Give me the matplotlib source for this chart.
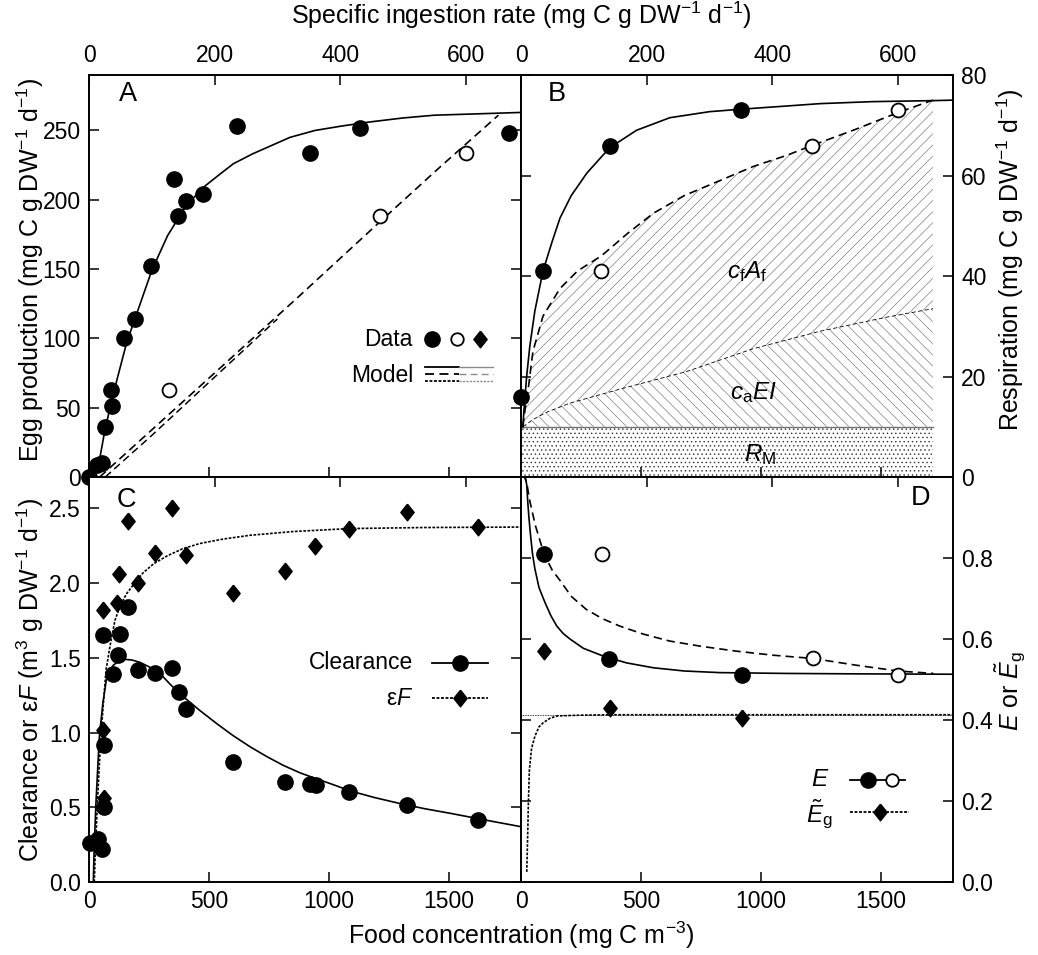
import numpy as np
import matplotlib
matplotlib.use("Agg")
import matplotlib.pyplot as plt

plt.rcParams['font.family'] = ['Liberation Sans', 'DejaVu Sans']
plt.rcParams['mathtext.fontset'] = 'custom'
plt.rcParams['mathtext.rm'] = 'Liberation Sans'
plt.rcParams['mathtext.it'] = 'Liberation Sans:italic'
plt.rcParams['hatch.linewidth'] = 0.5

# ---------------------------------------------------------------------------
# Data
# ---------------------------------------------------------------------------
ING_MAX = 688      # specific ingestion rate axis limit
FOOD_MAX = 1800    # food concentration axis limit

# Panel A: egg production vs specific ingestion rate
a_fill_x = [0, 12, 20, 25, 37, 35, 56, 73, 99, 135, 141, 154, 182, 236, 352, 432, 669]
a_fill_y = [0, 9, 10, 36, 51, 63, 100, 114, 152, 215, 188, 199, 204, 253, 234, 252, 248]
a_open_x = [128, 463, 600]
a_open_y = [63, 188, 234]
a_solid_x = [0, 10, 17, 25, 35, 45, 60, 80, 100, 125, 155, 185, 210, 230, 260, 285, 320,
             360, 400, 445, 500, 550, 620, 688]
a_solid_y = [0, 5, 13, 33, 53, 71, 97, 123, 149, 174, 196, 210, 219, 226, 233, 238, 245,
             250, 253, 256, 259, 261, 262, 263]
a_dash_x = [17, 100, 200, 336, 463, 560, 652]
a_dash_y = [0, 34, 75, 131, 184, 224, 261]
a_dash2_x = [26, 100, 200, 300]
a_dash2_y = [0, 30, 72, 114]

# Panel B: respiration vs specific ingestion rate
b_fill_x = [0, 35, 141, 351]
b_fill_y = [16.0, 40.9, 65.9, 73.0]
b_open_x = [128, 464, 600]
b_open_y = [40.9, 65.9, 73.0]
b_solid_x = [3, 4, 6, 9, 14, 22, 35, 50, 62, 80, 105, 141, 184, 237, 300, 351, 420, 476,
             560, 656, 688]
b_solid_y = [10, 12, 15.5, 20, 26, 33, 41, 47, 51.5, 56, 60.5, 65.5, 69, 71.5, 72.7, 73.2,
             73.8, 74.3, 74.7, 74.9, 75.0]
b_total_x = [3, 6, 11, 19, 35, 62, 90, 128, 170, 211, 260, 317, 370, 423, 464, 529, 600, 656]
b_total_y = [10, 13, 17, 25, 32, 37.5, 41, 44, 48.5, 52.5, 56, 59, 61.8, 64, 66, 69, 72.5, 75]
b_act_x = [3, 20, 41, 78, 158, 264, 369, 476, 582, 656]
b_act_y = [10, 11.5, 12.9, 14.7, 17.5, 21, 25.5, 29, 31.8, 33.5]
b_rm = 10.0
b_end = 656

# Panel C: clearance and eps*F vs food concentration
c_clear_x = [4, 39, 53, 64, 64, 57, 99, 122, 129, 164, 205, 275, 347, 375, 403,
             601, 817, 921, 946, 1085, 1326, 1622]
c_clear_y = [0.26, 0.29, 0.22, 0.50, 0.92, 1.655, 1.395, 1.52, 1.66, 1.84, 1.42, 1.40,
             1.43, 1.27, 1.16, 0.80, 0.67, 0.655, 0.65, 0.60, 0.515, 0.415]
c_epsf_x = [39, 57, 60, 64, 118, 127, 161, 205, 275, 347, 403, 601, 817, 942, 1085, 1326, 1622]
c_epsf_y = [0.28, 1.82, 1.02, 0.56, 1.87, 2.06, 2.415, 2.00, 2.20, 2.50, 2.185, 1.935,
            2.08, 2.25, 2.365, 2.475, 2.375]
c_solid_x = [18, 22, 29, 43, 58, 74, 101, 125, 150, 180, 212, 250, 296, 340, 393, 460, 532,
             600, 671, 740, 810, 880, 949, 1020, 1087, 1190, 1296, 1400, 1504, 1650, 1800]
c_solid_y = [0, 0.25, 0.53, 0.97, 1.2, 1.37, 1.45, 1.48, 1.49, 1.485, 1.47, 1.44, 1.395,
             1.32, 1.24, 1.15, 1.06, 0.98, 0.905, 0.84, 0.78, 0.73, 0.69, 0.65, 0.61, 0.565,
             0.525, 0.49, 0.46, 0.415, 0.37]
c_dot_x = [22, 28, 35, 49, 71, 90, 108, 130, 157, 190, 226, 270, 323, 390, 462, 560, 671,
           850, 1087, 1400, 1800]
c_dot_y = [0, 0.27, 0.53, 0.97, 1.42, 1.6, 1.75, 1.85, 1.93, 2.0, 2.07, 2.13, 2.18, 2.23,
           2.265, 2.295, 2.32, 2.345, 2.365, 2.372, 2.375]

# Panel D: gross growth efficiencies vs food concentration
d_fill_x = [96, 368, 920]
d_fill_y = [0.81, 0.55, 0.511]
d_open_x = [339, 1215, 1570]
d_open_y = [0.81, 0.552, 0.511]
d_dia_x = [96, 372, 920]
d_dia_y = [0.57, 0.43, 0.405]
d_solid_x = [0, 18, 24, 28, 33, 40, 48, 58, 75, 100, 125, 149, 175, 204, 260, 342, 440, 551,
             680, 829, 1100, 1378, 1800]
d_solid_y = [1.0, 1.0, 0.98, 0.94, 0.9, 0.855, 0.81, 0.773, 0.727, 0.69, 0.657, 0.632, 0.614,
             0.60, 0.577, 0.558, 0.541, 0.529, 0.521, 0.517, 0.515, 0.514, 0.513]
d_dash_x = [0, 15, 24, 37, 60, 96, 130, 162, 210, 272, 340, 411, 510, 619, 750, 897, 1050,
            1215, 1400, 1570, 1718]
d_dash_y = [1.0, 1.0, 0.985, 0.94, 0.88, 0.81, 0.77, 0.745, 0.705, 0.673, 0.65, 0.632, 0.612,
            0.595, 0.582, 0.57, 0.56, 0.552, 0.535, 0.521, 0.515]
d_dot_x = [24, 28, 31, 35, 44, 58, 75, 92, 120, 150, 250, 400, 920, 1800]
d_dot_y = [0.025, 0.12, 0.2, 0.277, 0.33, 0.36, 0.383, 0.393, 0.404, 0.41, 0.412, 0.413,
           0.413, 0.413]
d_eg_level = 0.413

ing_ticks = [0, 200, 400, 600]
food_ticks = [0, 500, 1000, 1500]

# ---------------------------------------------------------------------------
# Styles
# ---------------------------------------------------------------------------
FS = 16.5
FS_LAB = 18
LW = 1.2
DASH = (0, (5, 3))
DOT = (0, (1.6, 0.9))
DIAMOND = [(0, 1), (0.8, 0), (0, -1), (-0.8, 0), (0, 1)]
fill_kw = dict(ls='none', marker='o', ms=11, mfc='black', mec='black', clip_on=False, zorder=5)
open_kw = dict(ls='none', marker='o', ms=10, mfc='white', mec='black', mew=1.3, clip_on=False,
               zorder=5)
dia_kw = dict(ls='none', marker=DIAMOND, ms=12, mfc='black', mec='black', clip_on=False, zorder=5)

W, H = 1038, 955
fig = plt.figure(figsize=(W / 100, H / 100), dpi=100)


def px_axes(x0, y0, x1, y1):
    return fig.add_axes([x0 / W, 1 - y1 / H, (x1 - x0) / W, (y1 - y0) / H])


def style(ax, top_is_main, ylabel_right):
    for s in ax.spines.values():
        s.set_linewidth(1.4)
    ax.tick_params(which='both', direction='in', length=7, width=1.1, labelsize=FS,
                   left=True, right=True, labelleft=not ylabel_right, labelright=ylabel_right)
    if top_is_main:
        ax.tick_params(which='major', top=True, bottom=False, labeltop=True, labelbottom=False,
                       pad=6)
        ax.tick_params(which='minor', top=False, bottom=True)
    else:
        ax.tick_params(which='major', top=False, bottom=True, labeltop=False, labelbottom=True,
                       pad=6)
        ax.tick_params(which='minor', top=True, bottom=False)
    ax.tick_params(axis='y', which='minor', left=False, right=False)


axA = px_axes(89, 75, 521, 477)
axB = px_axes(521, 75, 953, 477)
axC = px_axes(89, 477, 521, 882)
axD = px_axes(521, 477, 953, 882)

# ── Panel A ───────────────────────────────────────────────────────────────
ax = axA
ax.plot(a_solid_x, a_solid_y, color='black', lw=LW)
ax.plot(a_dash_x, a_dash_y, color='black', lw=LW, ls=DASH)
ax.plot(a_dash2_x, a_dash2_y, color='black', lw=LW * 0.9, ls=DASH)
ax.plot(a_fill_x, a_fill_y, **fill_kw)
ax.plot(a_open_x, a_open_y, **open_kw)
ax.set_xlim(0, ING_MAX)
ax.set_ylim(0, 290)
ax.set_xticks(ing_ticks)
ax.set_xticks([f * ING_MAX / FOOD_MAX for f in food_ticks[1:]], minor=True)
ax.set_yticks([0, 50, 100, 150, 200, 250])
style(ax, True, False)
ax.text(0.09, 0.953, 'A', transform=ax.transAxes, fontsize=FS + 3, ha='center', va='center')
# legend
ax.text(0.75, 0.343, 'Data', transform=ax.transAxes, fontsize=FS, ha='right', va='center')
ax.plot([0.794], [0.343], transform=ax.transAxes, ls='none', marker='o', ms=11, color='black')
ax.plot([0.852], [0.343], transform=ax.transAxes, ls='none', marker='o', ms=9, mfc='white',
        mec='black', mew=1.3)
ax.plot([0.905], [0.343], transform=ax.transAxes, ls='none', marker=DIAMOND, ms=12,
        color='black')
ax.text(0.75, 0.253, 'Model', transform=ax.transAxes, fontsize=FS, ha='right', va='center')
for yy, lsty in [(0.274, '-'), (0.256, DASH), (0.239, DOT)]:
    ax.plot([0.778, 0.856], [yy, yy], transform=ax.transAxes, color='black', lw=1.3, ls=lsty)
    ax.plot([0.856, 0.935], [yy, yy], transform=ax.transAxes, color='0.55', lw=1.0, ls=lsty)

# ── Panel B ───────────────────────────────────────────────────────────────
ax = axB
rm_poly_x = [0, b_end, b_end, 0]
rm_poly_y = [0, 0, b_rm, b_rm]
ax.fill(rm_poly_x, rm_poly_y, facecolor='none', edgecolor='0.2', lw=0, hatch='....')
ax.fill(np.concatenate([b_act_x, [b_end, 3]]), np.concatenate([b_act_y, [b_rm, b_rm]]),
        facecolor='none', edgecolor='0.5', lw=0, hatch='\\\\\\')
ax.fill(np.concatenate([b_total_x, b_act_x[::-1]]),
        np.concatenate([b_total_y, b_act_y[::-1]]),
        facecolor='none', edgecolor='0.5', lw=0, hatch='///')
ax.plot([0, b_end], [b_rm, b_rm], color='0.45', lw=1.0)
ax.plot(b_act_x, b_act_y, color='black', lw=0.6, ls=(0, (5, 3)))
ax.plot(b_total_x, b_total_y, color='black', lw=LW, ls=DASH)
ax.plot(b_solid_x, b_solid_y, color='black', lw=LW)
ax.plot(b_fill_x, b_fill_y, **fill_kw)
ax.plot(b_open_x, b_open_y, **open_kw)
ax.set_xlim(0, ING_MAX)
ax.set_ylim(0, 80)
ax.set_xticks(ing_ticks)
ax.set_xticks([f * ING_MAX / FOOD_MAX for f in food_ticks[1:]], minor=True)
ax.set_yticks([0, 20, 40, 60, 80])
style(ax, True, True)
ax.text(0.083, 0.953, 'B', transform=ax.transAxes, fontsize=FS + 3, ha='center', va='center')
ax.text(0.523, 0.512, r'$c_\mathrm{f}A_\mathrm{f}$', transform=ax.transAxes, fontsize=FS + 1,
        ha='center', va='center')
ax.text(0.537, 0.209, r'$c_\mathrm{a}EI$', transform=ax.transAxes, fontsize=FS + 1,
        ha='center', va='center')
ax.text(0.553, 0.057, r'$R_\mathrm{M}$', transform=ax.transAxes, fontsize=FS + 1,
        ha='center', va='center')

# ── Panel C ───────────────────────────────────────────────────────────────
ax = axC
ax.plot(c_solid_x, c_solid_y, color='black', lw=LW)
ax.plot(c_dot_x, c_dot_y, color='black', lw=LW, ls=DOT)
ax.plot(c_clear_x, c_clear_y, **fill_kw)
ax.plot(c_epsf_x, c_epsf_y, **dia_kw)
ax.set_xlim(0, FOOD_MAX)
ax.set_ylim(0, 2.71)
ax.set_xticks(food_ticks)
ax.set_xticks([i * FOOD_MAX / ING_MAX for i in ing_ticks[1:]], minor=True)
ax.set_yticks([0, 0.5, 1.0, 1.5, 2.0, 2.5])
ax.set_yticklabels(['0.0', '0.5', '1.0', '1.5', '2.0', '2.5'])
style(ax, False, False)
ax.text(0.086, 0.943, 'C', transform=ax.transAxes, fontsize=FS + 3, ha='center', va='center')
ax.text(0.75, 0.541, 'Clearance', transform=ax.transAxes, fontsize=FS, ha='right', va='center')
ax.plot([0.794, 0.924], [0.541, 0.541], transform=ax.transAxes, color='black', lw=1.3)
ax.plot([0.859], [0.541], transform=ax.transAxes, ls='none', marker='o', ms=11, color='black')
ax.text(0.75, 0.454, r'ε$\it{F}$', transform=ax.transAxes, fontsize=FS, ha='right',
        va='center')
ax.plot([0.794, 0.924], [0.454, 0.454], transform=ax.transAxes, color='black', lw=1.3, ls=DOT)
ax.plot([0.859], [0.454], transform=ax.transAxes, ls='none', marker=DIAMOND, ms=12,
        color='black')

# ── Panel D ───────────────────────────────────────────────────────────────
ax = axD
ax.plot([0, FOOD_MAX], [d_eg_level, d_eg_level], color='black', lw=0.6, ls=(0, (1, 1)))
ax.plot(d_solid_x, d_solid_y, color='black', lw=LW)
ax.plot(d_dash_x, d_dash_y, color='black', lw=LW, ls=DASH)
ax.plot(d_dot_x, d_dot_y, color='black', lw=LW, ls=DOT)
ax.plot(d_fill_x, d_fill_y, **fill_kw)
ax.plot(d_open_x, d_open_y, **open_kw)
ax.plot(d_dia_x, d_dia_y, **dia_kw)
ax.set_xlim(0, FOOD_MAX)
ax.set_ylim(0, 1.0)
ax.set_xticks(food_ticks)
ax.set_xticks([i * FOOD_MAX / ING_MAX for i in ing_ticks[1:]], minor=True)
ax.set_yticks([0, 0.2, 0.4, 0.6, 0.8])
ax.set_yticklabels(['0.0', '0.2', '0.4', '0.6', '0.8'])
style(ax, False, True)
ax.text(0.924, 0.948, 'D', transform=ax.transAxes, fontsize=FS + 3, ha='center', va='center')
ax.text(0.715, 0.252, r'$E$', transform=ax.transAxes, fontsize=FS + 1, ha='right',
        va='center')
ax.plot([0.762, 0.889], [0.252, 0.252], transform=ax.transAxes, color='black', lw=1.3)
ax.plot([0.803], [0.252], transform=ax.transAxes, ls='none', marker='o', ms=11, color='black')
ax.plot([0.859], [0.252], transform=ax.transAxes, ls='none', marker='o', ms=9, mfc='white',
        mec='black', mew=1.3)
ax.text(0.722, 0.166, r'$\tilde{E}_\mathrm{g}$', transform=ax.transAxes, fontsize=FS + 1,
        ha='right', va='center')
ax.plot([0.762, 0.898], [0.173, 0.173], transform=ax.transAxes, color='black', lw=1.3, ls=DOT)
ax.plot([0.831], [0.173], transform=ax.transAxes, ls='none', marker=DIAMOND, ms=12,
        color='black')

# ── Axis titles ───────────────────────────────────────────────────────────
fig.text(0.502, 0.984, 'Specific ingestion rate (mg C g DW$^{-1}$ d$^{-1}$)', fontsize=FS_LAB,
         ha='center', va='center')
fig.text(0.502, 0.021, 'Food concentration (mg C m$^{-3}$)', fontsize=FS_LAB, ha='center',
         va='center')
fig.text(0.029, 0.717, 'Egg production (mg C g DW$^{-1}$ d$^{-1}$)', fontsize=FS_LAB,
         rotation=90, ha='center', va='center')
fig.text(0.029, 0.288, r'Clearance or ε$\it{F}$ (m$^3$ g DW$^{-1}$ d$^{-1}$)', fontsize=FS_LAB,
         rotation=90, ha='center', va='center')
fig.text(0.973, 0.728, 'Respiration (mg C g DW$^{-1}$ d$^{-1}$)', fontsize=FS_LAB, rotation=90,
         ha='center', va='center')
fig.text(0.973, 0.277, r'$E$ or $\tilde{E}_\mathrm{g}$', fontsize=FS_LAB, rotation=90,
         ha='center', va='center')

fig.savefig('out.png', dpi=100)
